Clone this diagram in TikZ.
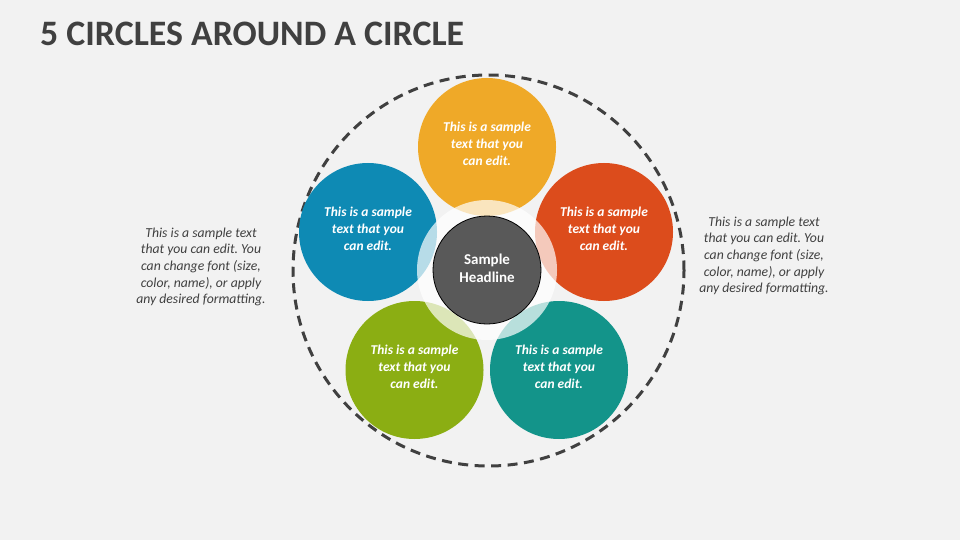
\documentclass[tikz,border=0pt]{standalone}
\usepackage{fontspec}
\setmainfont{Carlito}
\frenchspacing
\definecolor{bgcol}{HTML}{F2F2F2}
\definecolor{titlecol}{HTML}{404040}
\definecolor{dashcol}{HTML}{404040}
\definecolor{cyellow}{HTML}{EFA928}
\definecolor{cblue}{HTML}{0E8AB4}
\definecolor{cred}{HTML}{DC4C1C}
\definecolor{cgreen}{HTML}{8BAE13}
\definecolor{cteal}{HTML}{13948A}
\definecolor{chub}{HTML}{595959}
\tikzset{
  petal/.style={circle, minimum size=138pt, inner sep=0pt},
  petaltext/.style={text=white, align=center, inner sep=0pt,
    font=\bfseries\itshape\fontsize{13.5}{16.7}\selectfont},
  sidetext/.style={align=center, text=titlecol, inner sep=0pt,
    font=\itshape\fontsize{13.7}{16.7}\selectfont},
}
\begin{document}
\begin{tikzpicture}[x=1pt,y=-1pt]
\fill[bgcol] (0,0) rectangle (960,540);
\useasboundingbox (0,0) rectangle (960,540);
\node[anchor=base west, inner sep=0pt, text=titlecol, font=\bfseries\fontsize{35.8}{40}\selectfont] (title) at (40,46) {5 CIRCLES AROUND A CIRCLE};
\node[circle, draw=dashcol, line width=3pt, dash pattern=on 10pt off 6.5pt, minimum size=391pt, inner sep=0pt] (outer) at (488.5,270.5) {};
\node[petal, fill=cyellow] (p1) at (487,147) {};
\node[petal, fill=cblue] (p2) at (368,232) {};
\node[petal, fill=cred] (p3) at (604,232) {};
\node[petal, fill=cgreen] (p4) at (414.5,370) {};
\node[petal, fill=cteal] (p5) at (559,370) {};
\node[petaltext] (t1) at ([yshift=3pt]p1.center) {This is a sample\\text that you\\can edit.};
\node[petaltext] (t2) at ([yshift=3pt]p2.center) {This is a sample\\text that you\\can edit.};
\node[petaltext] (t3) at ([yshift=3pt]p3.center) {This is a sample\\text that you\\can edit.};
\node[petaltext] (t4) at ([yshift=3pt]p4.center) {This is a sample\\text that you\\can edit.};
\node[petaltext] (t5) at ([yshift=3pt]p5.center) {This is a sample\\text that you\\can edit.};
\node[circle, fill=white, fill opacity=0.7, minimum size=140pt, inner sep=0pt] (ring) at (487,270) {};
\node[circle, fill=chub, draw=black, line width=0.8pt, minimum size=108pt, inner sep=0pt] (hub) at (487,270) {};
\node[text=white, align=center, inner sep=0pt, font=\bfseries\fontsize{15}{18}\selectfont] (hubtext) at ([yshift=2pt]hub.center) {Sample\\Headline};
\node[sidetext] (lt) at (201,267) {This is a sample text\\that you can edit. You\\can change font (size,\\color, name), or apply\\any desired formatting.};
\node[sidetext] (rt) at (764,256) {This is a sample text\\that you can edit. You\\can change font (size,\\color, name), or apply\\any desired formatting.};
\end{tikzpicture}
\end{document}
